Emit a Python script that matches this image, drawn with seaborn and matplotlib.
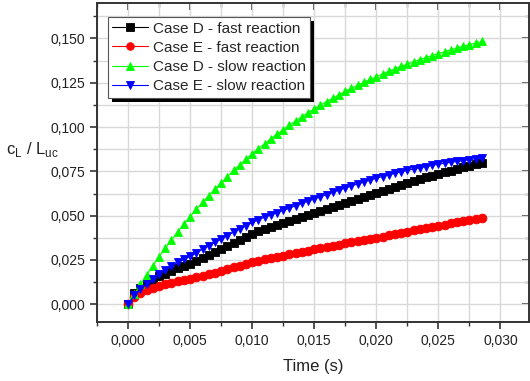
import matplotlib
matplotlib.use("Agg")
import matplotlib.pyplot as plt
import matplotlib.ticker as mticker
from matplotlib.patches import Rectangle
import seaborn as sns
import pandas as pd

time_s = [0.0000, 0.0005, 0.0010, 0.0015, 0.0020, 0.0025, 0.0030, 0.0035, 0.0040, 0.0045,
          0.0050, 0.0055, 0.0060, 0.0065, 0.0070, 0.0075, 0.0080, 0.0085, 0.0090, 0.0095,
          0.0100, 0.0105, 0.0110, 0.0115, 0.0120, 0.0125, 0.0130, 0.0135, 0.0140, 0.0145,
          0.0150, 0.0155, 0.0160, 0.0165, 0.0170, 0.0175, 0.0180, 0.0185, 0.0190, 0.0195,
          0.0200, 0.0205, 0.0210, 0.0215, 0.0220, 0.0225, 0.0230, 0.0235, 0.0240, 0.0245,
          0.0250, 0.0255, 0.0260, 0.0265, 0.0270, 0.0275, 0.0280, 0.0285]

case_d_fast = [0.0000, 0.0065, 0.0092, 0.0116, 0.0138, 0.0157, 0.0173, 0.0188, 0.0202, 0.0215,
               0.0228, 0.0245, 0.0262, 0.0279, 0.0296, 0.0312, 0.0330, 0.0347, 0.0364, 0.0381,
               0.0398, 0.0411, 0.0423, 0.0435, 0.0447, 0.0458, 0.0469, 0.0481, 0.0492, 0.0503,
               0.0514, 0.0525, 0.0537, 0.0548, 0.0559, 0.0570, 0.0582, 0.0594, 0.0606, 0.0618,
               0.0630, 0.0641, 0.0653, 0.0664, 0.0675, 0.0686, 0.0696, 0.0706, 0.0716, 0.0726,
               0.0736, 0.0745, 0.0754, 0.0764, 0.0773, 0.0782, 0.0791, 0.0800]

case_e_fast = [0.0000, 0.0040, 0.0064, 0.0081, 0.0094, 0.0105, 0.0114, 0.0122, 0.0130, 0.0138,
               0.0145, 0.0153, 0.0162, 0.0170, 0.0179, 0.0188, 0.0198, 0.0208, 0.0218, 0.0228,
               0.0238, 0.0245, 0.0253, 0.0260, 0.0268, 0.0275, 0.0282, 0.0289, 0.0296, 0.0303,
               0.0310, 0.0317, 0.0323, 0.0330, 0.0336, 0.0343, 0.0349, 0.0356, 0.0362, 0.0369,
               0.0375, 0.0382, 0.0389, 0.0396, 0.0403, 0.0410, 0.0417, 0.0423, 0.0430, 0.0436,
               0.0443, 0.0449, 0.0456, 0.0462, 0.0468, 0.0475, 0.0481, 0.0487]

case_d_slow = [0.0000, 0.0057, 0.0113, 0.0166, 0.0218, 0.0268, 0.0316, 0.0363, 0.0408, 0.0452,
               0.0494, 0.0535, 0.0575, 0.0613, 0.0650, 0.0686, 0.0721, 0.0755, 0.0787, 0.0818,
               0.0849, 0.0878, 0.0906, 0.0934, 0.0960, 0.0986, 0.1011, 0.1035, 0.1058, 0.1081,
               0.1102, 0.1124, 0.1144, 0.1163, 0.1182, 0.1201, 0.1219, 0.1236, 0.1253, 0.1269,
               0.1284, 0.1300, 0.1314, 0.1328, 0.1342, 0.1355, 0.1368, 0.1380, 0.1392, 0.1403,
               0.1415, 0.1425, 0.1436, 0.1446, 0.1456, 0.1465, 0.1474, 0.1483]

case_e_slow = [0.0000, 0.0050, 0.0085, 0.0116, 0.0145, 0.0172, 0.0195, 0.0216, 0.0236, 0.0253,
               0.0270, 0.0290, 0.0310, 0.0330, 0.0349, 0.0368, 0.0388, 0.0407, 0.0426, 0.0444,
               0.0462, 0.0477, 0.0491, 0.0504, 0.0517, 0.0530, 0.0543, 0.0556, 0.0569, 0.0582,
               0.0594, 0.0607, 0.0619, 0.0632, 0.0644, 0.0656, 0.0668, 0.0679, 0.0690, 0.0701,
               0.0712, 0.0721, 0.0730, 0.0739, 0.0748, 0.0756, 0.0763, 0.0770, 0.0777, 0.0784,
               0.0790, 0.0796, 0.0801, 0.0806, 0.0811, 0.0816, 0.0821, 0.0826]

series_names = ["Case D - fast reaction", "Case E - fast reaction",
                "Case D - slow reaction", "Case E - slow reaction"]
series_values = [case_d_fast, case_e_fast, case_d_slow, case_e_slow]
series_colors = ["#000000", "#ff0000", "#00ff00", "#0000ff"]
series_markers = ["s", "o", "^", "v"]

x_ticks = [0.000, 0.005, 0.010, 0.015, 0.020, 0.025, 0.030]
y_ticks = [0.000, 0.025, 0.050, 0.075, 0.100, 0.125, 0.150]

frames = []
for name, vals in zip(series_names, series_values):
    frames.append(pd.DataFrame({"t": time_s, "v": vals, "series": name}))
df = pd.concat(frames, ignore_index=True)

sns.set_style("ticks")
plt.rcParams["font.family"] = ["Liberation Sans", "DejaVu Sans"]
plt.rcParams["mathtext.fontset"] = "custom"
plt.rcParams["mathtext.rm"] = "Liberation Sans"

fig = plt.figure(figsize=(5.30, 3.81), dpi=100)
ax = fig.add_axes([97 / 530, (381 - 322) / 381, 432 / 530, 319 / 381])

sns.lineplot(data=df, x="t", y="v", hue="series", style="series",
             hue_order=series_names, style_order=series_names,
             palette=series_colors, markers=series_markers, dashes=False,
             markersize=6.3, linewidth=0.8, ax=ax, sort=False)

for line in ax.lines:
    line.set_markeredgecolor(line.get_color())
    line.set_markeredgewidth(0.6)

ax.set_xlim(-0.0025, 0.0323)
ax.set_ylim(-0.0100, 0.1700)
ax.set_xticks(x_ticks)
ax.set_yticks(y_ticks)
ax.xaxis.set_minor_locator(mticker.MultipleLocator(0.0025))
ax.yaxis.set_minor_locator(mticker.MultipleLocator(0.0125))
fmt = mticker.FuncFormatter(lambda v, p: f"{v:.3f}".replace(".", ","))
ax.xaxis.set_major_formatter(fmt)
ax.yaxis.set_major_formatter(fmt)

ax.grid(True, which="both", color="#d8d8d8", linewidth=1.0)
ax.set_axisbelow(True)

for s in ax.spines.values():
    s.set_visible(True)
    s.set_color("#333333")
    s.set_linewidth(1.4)

ax.tick_params(axis="both", which="major", direction="out", length=5, width=1.2,
               labelsize=10, colors="#333333", labelcolor="#222222")
ax.tick_params(axis="both", which="minor", direction="out", length=3, width=1.0, colors="#333333")
ax.tick_params(top=False, right=False, which="both")

sec_x = ax.secondary_xaxis("top")
sec_x.set_xticks(x_ticks)
sec_x.xaxis.set_minor_locator(mticker.MultipleLocator(0.0025))
sec_x.tick_params(which="major", direction="in", length=5, width=1.2, labeltop=False, colors="#333333")
sec_x.tick_params(which="minor", direction="in", length=3, width=1.0, colors="#333333")
sec_x.spines["top"].set_visible(False)

sec_y = ax.secondary_yaxis("right")
sec_y.set_yticks(y_ticks)
sec_y.yaxis.set_minor_locator(mticker.MultipleLocator(0.0125))
sec_y.tick_params(which="major", direction="in", length=5, width=1.2, labelright=False, colors="#333333")
sec_y.tick_params(which="minor", direction="in", length=3, width=1.0, colors="#333333")
sec_y.spines["right"].set_visible(False)

ax.set_xlabel("Time (s)", fontsize=12, color="#222222", labelpad=8)
ax.set_ylabel(r"c$_{\mathrm{L}}$ / L$_{\mathrm{uc}}$", fontsize=12, color="#222222",
              rotation=0, ha="center", va="center")
ax.yaxis.set_label_coords(-0.150, 0.54)

handles, labels = ax.get_legend_handles_labels()
if ax.get_legend() is not None:
    ax.get_legend().remove()
leg = ax.legend(handles, labels, loc="upper left", bbox_to_anchor=(0.025, 0.956),
                borderaxespad=0, fontsize=11, frameon=True, fancybox=False, shadow=False,
                handlelength=2.3, handletextpad=0.35, labelspacing=0.34, borderpad=0.3)
leg.set_zorder(10)
leg.get_frame().set_edgecolor("#555555")
leg.get_frame().set_linewidth(0.8)
leg.get_frame().set_alpha(1.0)
for h in leg.legend_handles:
    h.set_linewidth(0.8)
    h.set_markeredgecolor(h.get_color())
    h.set_markersize(5.5)

fig.canvas.draw()
bb = leg.get_window_extent()
shadow = Rectangle((bb.x0 + 4, bb.y0 - 4), bb.width, bb.height, transform=None,
                   facecolor="black", edgecolor="none", zorder=9)
ax.add_artist(shadow)

fig.savefig("out.png", dpi=100)
